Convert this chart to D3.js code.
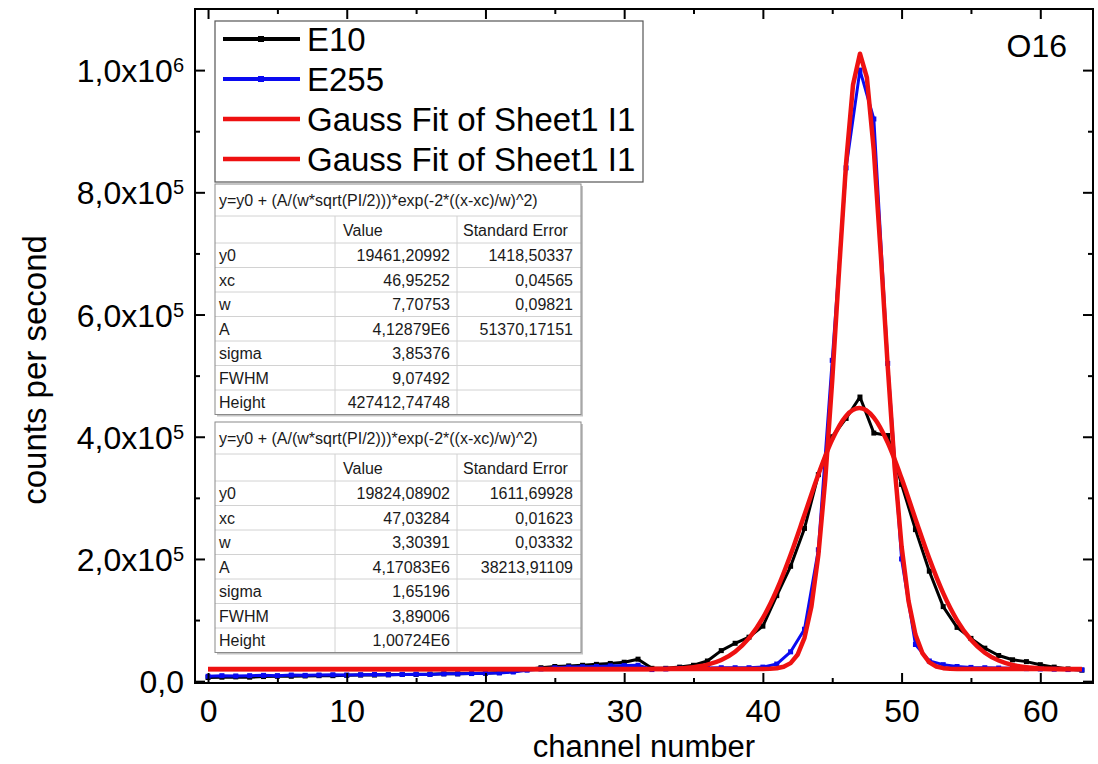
<!DOCTYPE html>
<html>
<head>
<meta charset="utf-8">
<script src="https://cdnjs.cloudflare.com/ajax/libs/d3/7.8.5/d3.min.js"></script>
<style>
  body { margin: 0; background: #fff; }
  svg { display: block; font-family: "Liberation Sans", Arial, sans-serif; }
</style>
</head>
<body>
<div id="chart"></div>
<script>
// Channel spectrum of O16, two measurements plus gaussian fits
const channels = d3.range(0, 64)

const e10 = [
  6000, 6500, 7000, 6500, 7500, 8000, 8000, 8500, 9000, 9000,
  9500, 10000, 10000, 10500, 11000, 11000, 11500, 12000, 12000, 12500,
  13000, 14000, 16000, 19000, 22000, 24000, 25000, 26000, 27500, 29000,
  31000, 36000, 21000, 21000, 23000, 26000, 33000, 50000, 62000, 72000,
  90000, 140000, 188000, 250000, 338000, 400000, 430000, 465000, 406000, 402000,
  322000, 248000, 180000, 122000, 88000, 70000, 54000, 42000, 35000, 32000,
  27000, 23000, 20000, 18000
]

const e255 = [
  8000, 9000, 8500, 9000, 9500, 9000, 10000, 9500, 10000, 10500,
  10000, 10500, 11000, 10500, 11000, 11500, 11000, 12000, 12000, 12500,
  13000, 13500, 15000, 18000, 20000, 22000, 23000, 23500, 24000, 25000,
  25500, 26000, 19000, 20000, 21000, 21000, 21500, 22000, 22000, 22000,
  23000, 28000, 48000, 85000, 215000, 525000, 840000, 1000000, 920000, 520000,
  200000, 60000, 33000, 27000, 24000, 22500, 22000, 21500, 21000, 20500,
  20000, 19500, 19000, 18500
]

// fit curves, sampled (Origin output)
const fitWideX = [0, 10, 20, 27, 28, 29, 30, 31, 32, 33, 34, 35, 36, 37, 38, 39, 40, 41, 42, 43, 44, 45, 46, 46.95,
  48, 49, 50, 51, 52, 53, 54, 55, 56, 57, 58, 59, 60, 61, 62, 63]
const fitWideY = [19461, 19461, 19461, 19461, 19463, 19469, 19488, 19543, 19692, 20072, 20971, 22953, 27009, 34707,
  48273, 70365, 103533, 149224, 206796, 272233, 338311, 395499, 434095, 446874,
  431316, 390498, 331943, 265523, 200599, 144095, 99644, 67673, 46585, 33719, 26466, 22680, 20842, 20016, 19670, 19530]

const fitNarrowX = [0, 10, 20, 30, 39, 40, 40.5, 41, 41.5, 42, 42.5, 43, 43.5, 44, 44.5, 45, 45.5, 46, 46.5, 47,
  47.5, 48, 48.5, 49, 49.5, 50, 50.5, 51, 51.5, 52, 52.5, 53, 53.5, 54, 54.5, 55, 60, 63]
const fitNarrowY = [19824, 19824, 19824, 19824, 19831, 19941, 20228, 21103, 23519, 29544, 43162, 70982, 122160,
  206466, 330759, 492119, 674631, 848178, 975997, 1026863,
  987580, 868424, 698905, 515588, 350098, 220567, 131225, 76199, 45851, 30793, 24034, 21305, 20297, 19962, 19860,
  19831, 19824, 19824]

const xMajor = [0, 10, 20, 30, 40, 50, 60]
const xMinor = [5, 15, 25, 35, 45, 55]
const yMajor = [0, 200000, 400000, 600000, 800000, 1000000]
const yMinor = [100000, 300000, 500000, 700000, 900000]
const yMantissa = ["0,0", "2,0x10", "4,0x10", "6,0x10", "8,0x10", "1,0x10"]
const yExponent = ["", "5", "5", "5", "5", "6"]

const legendLabels = ["E10", "E255", "Gauss Fit of Sheet1 I1", "Gauss Fit of Sheet1 I1"]
const fitFormula = "y=y0 + (A/(w*sqrt(PI/2)))*exp(-2*((x-xc)/w)^2)"
const tableHeader = ["", "Value", "Standard Error"]
const fitWideRows = [
  ["y0", "19461,20992", "1418,50337"],
  ["xc", "46,95252", "0,04565"],
  ["w", "7,70753", "0,09821"],
  ["A", "4,12879E6", "51370,17151"],
  ["sigma", "3,85376", ""],
  ["FWHM", "9,07492", ""],
  ["Height", "427412,74748", ""]
]
const fitNarrowRows = [
  ["y0", "19824,08902", "1611,69928"],
  ["xc", "47,03284", "0,01623"],
  ["w", "3,30391", "0,03332"],
  ["A", "4,17083E6", "38213,91109"],
  ["sigma", "1,65196", ""],
  ["FWHM", "3,89006", ""],
  ["Height", "1,00724E6", ""]
]

const W = 1098, H = 764
const plot = { left: 195, right: 1093, top: 9, bottom: 683 }
const colors = { e10: "#000000", e255: "#0a0af0", fit: "#ee1111" }

const svg = d3.select("#chart").append("svg")
  .attr("width", W)
  .attr("height", H)

const x = d3.scaleLinear().domain([-0.94, 63.8]).range([plot.left, plot.right])
const y = d3.scaleLinear().domain([-3000, 1100000]).range([plot.bottom, plot.top])

// Data lines
const line = d3.line().x(d => x(d[0])).y(d => y(d[1]))

function drawSeries(values, color) {
  const pts = channels.map((c, i) => [c, values[i]])
  svg.append("path")
    .datum(pts)
    .attr("fill", "none")
    .attr("stroke", color)
    .attr("stroke-width", 3)
    .attr("stroke-linejoin", "round")
    .attr("d", line)
  svg.append("g").selectAll("rect")
    .data(pts)
    .enter().append("rect")
    .attr("x", d => x(d[0]) - 2.5)
    .attr("y", d => y(d[1]) - 2.5)
    .attr("width", 5)
    .attr("height", 5)
    .attr("fill", color)
}

drawSeries(e10, colors.e10)
drawSeries(e255, colors.e255)

svg.append("path")
  .datum(fitWideX.map((v, i) => [v, fitWideY[i]]))
  .attr("fill", "none")
  .attr("stroke", colors.fit)
  .attr("stroke-width", 4.5)
  .attr("d", line.curve(d3.curveMonotoneX))

svg.append("path")
  .datum(fitNarrowX.map((v, i) => [v, fitNarrowY[i]]))
  .attr("fill", "none")
  .attr("stroke", colors.fit)
  .attr("stroke-width", 4.5)
  .attr("stroke-linejoin", "round")
  .attr("d", line.curve(d3.curveLinear))

// Axes, ticks inside on all four sides
function styleAxis(g) {
  g.select(".domain").remove()
  g.selectAll(".tick line").attr("stroke", "#000").attr("stroke-width", 2)
}

svg.append("g")
  .attr("transform", `translate(0,${plot.bottom})`)
  .call(d3.axisBottom(x).tickValues(xMajor).tickSize(-10).tickPadding(16).tickFormat(d => d))
  .call(styleAxis)
  .call(g => g.selectAll("text").attr("font-size", 32).attr("fill", "#000").attr("font-family", null))
svg.append("g")
  .attr("transform", `translate(0,${plot.bottom})`)
  .call(d3.axisBottom(x).tickValues(xMinor).tickSize(-5).tickFormat(""))
  .call(styleAxis)
svg.append("g")
  .attr("transform", `translate(0,${plot.top})`)
  .call(d3.axisTop(x).tickValues(xMajor).tickSize(-10).tickFormat(""))
  .call(styleAxis)
svg.append("g")
  .attr("transform", `translate(0,${plot.top})`)
  .call(d3.axisTop(x).tickValues(xMinor).tickSize(-5).tickFormat(""))
  .call(styleAxis)

svg.append("g")
  .attr("transform", `translate(${plot.left},0)`)
  .call(d3.axisLeft(y).tickValues(yMajor).tickSize(-10).tickPadding(11).tickFormat(""))
  .call(styleAxis)
  .call(g => g.selectAll(".tick text").each(function (d, i) {
    const t = d3.select(this)
      .attr("font-size", 32)
      .attr("fill", "#000")
      .attr("dy", "0.36em")
    t.append("tspan").text(yMantissa[i])
    if (yExponent[i]) {
      t.append("tspan").attr("font-size", 20).attr("dy", -10).text(yExponent[i])
    }
  }))
svg.append("g")
  .attr("transform", `translate(${plot.left},0)`)
  .call(d3.axisLeft(y).tickValues(yMinor).tickSize(-5).tickFormat(""))
  .call(styleAxis)
svg.append("g")
  .attr("transform", `translate(${plot.right},0)`)
  .call(d3.axisRight(y).tickValues(yMajor).tickSize(-10).tickFormat(""))
  .call(styleAxis)
svg.append("g")
  .attr("transform", `translate(${plot.right},0)`)
  .call(d3.axisRight(y).tickValues(yMinor).tickSize(-5).tickFormat(""))
  .call(styleAxis)

svg.append("rect")
  .attr("x", plot.left)
  .attr("y", plot.top)
  .attr("width", plot.right - plot.left)
  .attr("height", plot.bottom - plot.top)
  .attr("fill", "none")
  .attr("stroke", "#000")
  .attr("stroke-width", 2)

// Axis titles
svg.append("text")
  .attr("x", (plot.left + plot.right) / 2)
  .attr("y", 757)
  .attr("text-anchor", "middle")
  .attr("font-size", 31)
  .text("channel number")

svg.append("text")
  .attr("transform", "translate(46,370) rotate(-90)")
  .attr("text-anchor", "middle")
  .attr("font-size", 33)
  .text("counts per second")

svg.append("text")
  .attr("x", 1067)
  .attr("y", 57)
  .attr("text-anchor", "end")
  .attr("font-size", 32)
  .text("O16")

// Legend
const legend = svg.append("g")
legend.append("rect")
  .attr("x", 215).attr("y", 21)
  .attr("width", 428).attr("height", 161)
  .attr("fill", "#fff")
  .attr("stroke", "#555")
  .attr("stroke-width", 1.2)

const legendColors = [colors.e10, colors.e255, colors.fit, colors.fit]
legendLabels.forEach((label, i) => {
  const ly = 39 + i * 40
  legend.append("line")
    .attr("x1", 223).attr("x2", 300)
    .attr("y1", ly).attr("y2", ly)
    .attr("stroke", legendColors[i])
    .attr("stroke-width", i < 2 ? 4 : 4.5)
  if (i < 2) {
    legend.append("rect")
      .attr("x", 258).attr("y", ly - 3)
      .attr("width", 6).attr("height", 6)
      .attr("fill", legendColors[i])
  }
  legend.append("text")
    .attr("x", 307)
    .attr("y", ly + 12)
    .attr("font-size", 33)
    .text(label)
})

// Fit parameter tables
function drawTable(top, rows) {
  const cols = [215, 335, 457, 581]
  const titleH = 32, headH = 27, rowH = 24.5
  const height = titleH + headH + rowH * rows.length
  const g = svg.append("g").attr("font-size", 16).attr("fill", "#1a1a1a")

  g.append("rect")
    .attr("x", cols[0] + 2).attr("y", top + 2)
    .attr("width", cols[3] - cols[0]).attr("height", height)
    .attr("fill", "#c4c4c4")
  g.append("rect")
    .attr("x", cols[0]).attr("y", top)
    .attr("width", cols[3] - cols[0]).attr("height", height)
    .attr("fill", "#fff")

  const lineYs = [top + titleH, top + titleH + headH]
  rows.forEach((r, i) => lineYs.push(top + titleH + headH + rowH * (i + 1)))
  lineYs.slice(0, -1).forEach(ly => {
    g.append("line")
      .attr("x1", cols[0]).attr("x2", cols[3])
      .attr("y1", ly).attr("y2", ly)
      .attr("stroke", "#d2d2d2")
  })
  cols.slice(1, 3).forEach(cx => {
    g.append("line")
      .attr("x1", cx).attr("x2", cx)
      .attr("y1", top + titleH).attr("y2", top + height)
      .attr("stroke", "#d2d2d2")
  })
  g.append("rect")
    .attr("x", cols[0]).attr("y", top)
    .attr("width", cols[3] - cols[0]).attr("height", height)
    .attr("fill", "none")
    .attr("stroke", "#8a8a8a")

  g.append("text")
    .attr("x", cols[0] + 4)
    .attr("y", top + titleH / 2 + 6)
    .text(fitFormula)

  const headY = top + titleH + headH / 2 + 6
  g.append("text").attr("x", cols[1] + 8).attr("y", headY).text(tableHeader[1])
  g.append("text").attr("x", cols[2] + 6).attr("y", headY).text(tableHeader[2])

  rows.forEach((r, i) => {
    const ry = top + titleH + headH + rowH * i + rowH / 2 + 6
    g.append("text").attr("x", cols[0] + 4).attr("y", ry).text(r[0])
    g.append("text").attr("x", cols[2] - 7).attr("y", ry).attr("text-anchor", "end").text(r[1])
    g.append("text").attr("x", cols[3] - 8).attr("y", ry).attr("text-anchor", "end").text(r[2])
  })
}

drawTable(184, fitWideRows)
drawTable(422, fitNarrowRows)
</script>
</body>
</html>
